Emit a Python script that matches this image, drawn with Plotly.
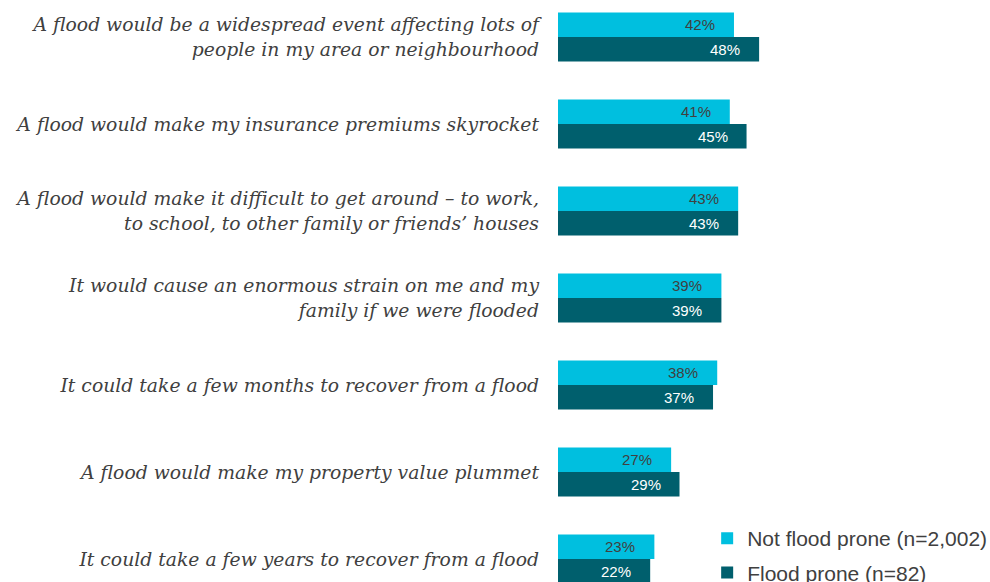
import plotly.graph_objects as go

# Survey statements (top to bottom) and share agreeing, by group
statements = [
    "A flood would be a widespread event affecting lots of<br>people in my area or neighbourhood",
    "A flood would make my insurance premiums skyrocket",
    "A flood would make it difficult to get around – to work,<br>to school, to other family or friends’ houses",
    "It would cause an enormous strain on me and my<br>family if we were flooded",
    "It could take a few months to recover from a flood",
    "A flood would make my property value plummet",
    "It could take a few years to recover from a flood",
]
not_flood_prone = [42, 41, 43, 39, 38, 27, 23]
flood_prone = [48, 45, 43, 39, 37, 29, 22]

series_names = ["Not flood prone (n=2,002)", "Flood prone (n=82)"]
series_colors = ["#00BFDF", "#005F6D"]
label_colors = ["#404040", "#FFFFFF"]

fig = go.Figure()
for name, vals, col in zip(series_names, [not_flood_prone, flood_prone], series_colors):
    fig.add_trace(go.Bar(
        y=statements, x=vals, name=name, orientation="h",
        marker=dict(color=col, line=dict(width=0)),
        legendgroup=name, hoverinfo="skip",
    ))

# Value labels just inside the end of each bar
annotations = []
for vals, tcol, shift in zip([not_flood_prone, flood_prone], label_colors, [12.25, -12.25]):
    for s, v in zip(statements, vals):
        annotations.append(dict(
            x=v, y=s, xref="x", yref="y", text=f"{v}%", showarrow=False,
            xanchor="right", yanchor="middle", xshift=-17, yshift=shift,
            font=dict(family="Liberation Sans, Arial, sans-serif", size=15, color=tcol),
        ))

fig.update_layout(
    width=990, height=582,
    margin=dict(l=558, r=13, t=0, b=0, autoexpand=False),
    paper_bgcolor="white", plot_bgcolor="white",
    barmode="group", bargap=0.437, bargroupgap=0,
    annotations=annotations,
    showlegend=True,
    legend=dict(
        xref="paper", yref="paper", x=0.356, y=0.110,
        xanchor="left", yanchor="top", tracegroupgap=4,
        font=dict(family="Liberation Sans, Arial, sans-serif", size=21, color="#404040"),
        bgcolor="rgba(0,0,0,0)",
    ),
    xaxis=dict(range=[0, 100], visible=False, showgrid=False, zeroline=False),
    yaxis=dict(
        type="category", categoryorder="array", categoryarray=statements,
        range=[6.264, -0.425], showgrid=False, zeroline=False, showline=False,
        ticks="", ticklabelstandoff=18,
        tickfont=dict(family="DejaVu Serif, Georgia, serif", size=18.8, color="#404040", style="italic"),
    ),
)

fig.write_html("out.html")
